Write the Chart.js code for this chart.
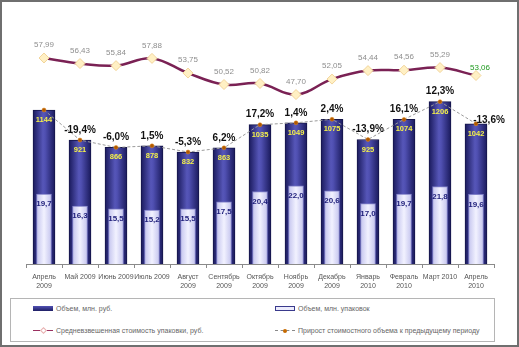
<!DOCTYPE html>
<html>
<head>
<meta charset="utf-8">
<script src="https://cdn.jsdelivr.net/npm/chart.js@4"></script>
<style>
  body { margin: 0; background: #fff; font-family: "Liberation Sans", Arial, sans-serif; }
  #wrap { position: relative; width: 519px; height: 347px; overflow: hidden; }
  #frame { position: absolute; left: 0; top: 0; width: 519px; height: 347px; box-sizing: border-box;
           border: 2px solid #6f6f6f; pointer-events: none; }
  #chart { position: absolute; left: 0; top: 0; }
  #legend { position: absolute; left: 10px; top: 298px; width: 485px; height: 44px; box-sizing: border-box;
            border: 1px solid #b5b5b5; font-size: 7px; color: #666; }
  .item { position: absolute; display: flex; align-items: center; white-space: nowrap; }
  .sym { width: 20px; height: 6px; margin-right: 3px; position: relative; }
  .dark { background: linear-gradient(#5252b4, #1e1e64); height: 5px; }
  .light { background: #ececfc; border: 1px solid #3a3a8c; height: 3px; width: 18px; }
  .line { height: 6px; }
  .line::before { content: ""; position: absolute; left: 0; right: 0; top: 2px; border-top: 1px solid #9a3060; }
  .line::after { content: ""; position: absolute; left: 8px; top: 0; width: 3px; height: 3px; border: 1px solid #e8b0b0;
                 background: #fff; transform: rotate(45deg); }
  .dash::before { content: ""; position: absolute; left: 0; right: 0; top: 2px; border-top: 1px dashed #8a8a8a; }
  .dash::after { content: ""; position: absolute; left: 8px; top: 1px; width: 4px; height: 4px; border-radius: 50%;
                 background: #c66a00; }
</style>
</head>
<body>
<div id="wrap">
  <canvas id="chart" width="519" height="296"></canvas>
  <div id="legend">
    <div class="item" style="left:22px;top:6px"><span class="sym dark"></span>Объем, млн. руб.</div>
    <div class="item" style="left:264px;top:6px"><span class="sym light"></span>Объем, млн. упаковок</div>
    <div class="item" style="left:22px;top:28px"><span class="sym line"></span>Средневзвешенная стоимость упаковки, руб.</div>
    <div class="item" style="left:264px;top:28px"><span class="sym dash"></span>Прирост стоимостного объема к предыдущему периоду</div>
  </div>
  <div id="frame"></div>
</div>
<script>
const labels = [['Апрель', '2009'], 'Май 2009', 'Июнь 2009', 'Июль 2009', ['Август', '2009'], ['Сентябрь', '2009'],
  ['Октябрь', '2009'], ['Ноябрь', '2009'], ['Декабрь', '2009'], ['Январь', '2010'], ['Февраль', '2010'],
  'Март 2010', ['Апрель', '2010']];
const volumeRub = [1144, 921, 866, 878, 832, 863, 1035, 1049, 1075, 925, 1074, 1206, 1042];
const volumePacks = [19.7, 16.3, 15.5, 15.2, 15.5, 17.5, 20.4, 22.0, 20.6, 17.0, 19.7, 21.8, 19.6];
const avgPrice = [57.99, 56.43, 55.84, 57.88, 53.75, 50.52, 50.82, 47.70, 52.05, 54.44, 54.56, 55.29, 53.06];
const growth = [null, -19.4, -6.0, 1.5, -5.3, 6.2, 17.2, 1.4, 2.4, -13.9, 16.1, 12.3, -13.6];

const fmt = (v, d) => v.toFixed(d).replace('.', ',');

// horizontal gradient for each bar, centred on its category
const barGradient = (stops, half, fallback) => (ctx) => {
  const chart = ctx.chart;
  if (!chart.chartArea || ctx.type !== 'data') return fallback;
  const x = chart.scales.x.getPixelForValue(ctx.dataIndex);
  const g = chart.ctx.createLinearGradient(x - half, 0, x + half, 0);
  stops.forEach(([p, c]) => g.addColorStop(p, c));
  return g;
};

const valueLabels = {
  id: 'valueLabels',
  afterDatasetsDraw(chart) {
    const c = chart.ctx;
    c.save();
    c.textAlign = 'center';
    c.textBaseline = 'middle';

    // Объем, млн. руб. - yellow inside dark bars
    c.font = 'bold 7.5px "Liberation Sans", Arial';
    c.fillStyle = '#f4f04a';
    chart.getDatasetMeta(0).data.forEach((el, i) => c.fillText(String(volumeRub[i]), el.x, el.y + 10));

    // Объем, млн. упаковок
    c.font = 'bold 8px "Liberation Sans", Arial';
    c.fillStyle = '#1e1e7a';
    chart.getDatasetMeta(1).data.forEach((el, i) => c.fillText(fmt(volumePacks[i], 1), el.x, el.y + 10));

    // average price
    c.font = '8px "Liberation Sans", Arial';
    chart.getDatasetMeta(2).data.forEach((el, i) => {
      const last = i === avgPrice.length - 1;
      c.fillStyle = last ? '#1f9a1f' : '#8e8e8e';
      c.fillText(fmt(avgPrice[i], 2), el.x + (last ? 4 : 0), el.y - (last ? 8 : 13));
    });

    // growth %
    c.font = 'bold 10px "Liberation Sans", Arial';
    c.fillStyle = '#111';
    chart.getDatasetMeta(3).data.forEach((el, i) => {
      if (growth[i] === null) return;
      const last = i === growth.length - 1;
      c.fillText(fmt(growth[i], 1) + '%', el.x + (last ? 13 : 0), el.y - (last ? 3 : 10));
    });
    c.restore();
  }
};

new Chart(document.getElementById('chart'), {
  data: {
    labels: labels,
    datasets: [
      {
        type: 'bar',
        label: 'Объем, млн. руб.',
        data: volumeRub,
        yAxisID: 'yRub',
        grouped: false,
        barThickness: 22,
        order: 3,
        backgroundColor: barGradient([[0, '#1a1a5c'], [0.45, '#5656b8'], [0.55, '#5050b2'], [1, '#1a1a5c']], 11, '#33338f'),
        borderColor: '#15154a',
        borderWidth: 1
      },
      {
        type: 'bar',
        label: 'Объем, млн. упаковок',
        data: volumePacks,
        yAxisID: 'yPack',
        grouped: false,
        barThickness: 15,
        order: 2,
        backgroundColor: barGradient([[0, '#c4c4ee'], [0.5, '#f2f2ff'], [1, '#c4c4ee']], 7.5, '#e6e6fa'),
        borderColor: '#8080c8',
        borderWidth: 1
      },
      {
        type: 'line',
        label: 'Средневзвешенная стоимость упаковки, руб.',
        data: avgPrice,
        yAxisID: 'yPack',
        order: 0,
        borderColor: '#7a2154',
        borderWidth: 2.5,
        tension: 0.4,
        pointStyle: 'rectRot',
        pointRadius: 5,
        pointBackgroundColor: '#fff0c4',
        pointBorderColor: '#f2d49a',
        pointBorderWidth: 1
      },
      {
        type: 'line',
        label: 'Прирост стоимостного объема к предыдущему периоду',
        data: volumeRub,
        yAxisID: 'yRub',
        order: 1,
        borderColor: '#9a9a9a',
        borderWidth: 1,
        borderDash: [3, 2],
        tension: 0,
        pointRadius: 2,
        pointBackgroundColor: '#b25a00',
        pointBorderColor: '#e08a20',
        pointBorderWidth: 0.5
      }
    ]
  },
  options: {
    responsive: false,
    animation: false,
    layout: { padding: { left: 26, right: 25, top: 10, bottom: 0 } },
    plugins: { legend: { display: false }, tooltip: { enabled: false } },
    scales: {
      x: {
        offset: true,
        grid: { display: true, offset: true, drawOnChartArea: false, drawTicks: true, tickLength: 4, color: '#8a8a8a' },
        border: { color: '#8a8a8a' },
        ticks: {
          autoSkip: false, maxRotation: 0, padding: 5, color: '#555',
          font: { family: '"Liberation Sans", Arial', size: 7 }
        },
        afterFit: (scale) => { scale.height = 32; }
      },
      yRub: { display: false, min: 0, max: 1887 },
      yPack: { display: false, min: 0, max: 71.5 }
    }
  },
  plugins: [valueLabels]
});
</script>
</body>
</html>
